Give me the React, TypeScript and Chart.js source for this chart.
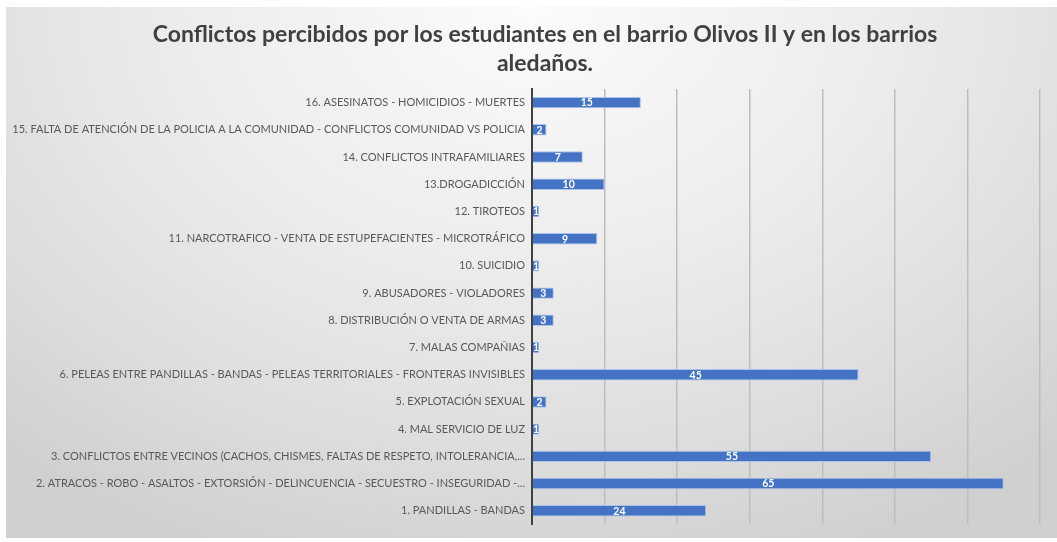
import React, { useEffect, useRef } from "react";
import { Chart, registerables } from "chart.js";

Chart.register(...registerables);

const titleLines = [
  "Conflictos percibidos por los estudiantes en el barrio Olivos II y en los barrios",
  "aledaños.",
];

const categories = [
  "16. ASESINATOS - HOMICIDIOS - MUERTES",
  "15. FALTA DE ATENCIÓN DE LA POLICIA A LA COMUNIDAD - CONFLICTOS COMUNIDAD VS POLICIA",
  "14. CONFLICTOS INTRAFAMILIARES",
  "13.DROGADICCIÓN",
  "12. TIROTEOS",
  "11. NARCOTRAFICO - VENTA DE ESTUPEFACIENTES - MICROTRÁFICO",
  "10. SUICIDIO",
  "9. ABUSADORES - VIOLADORES",
  "8. DISTRIBUCIÓN O VENTA DE ARMAS",
  "7. MALAS COMPAÑIAS",
  "6. PELEAS ENTRE PANDILLAS - BANDAS - PELEAS TERRITORIALES - FRONTERAS INVISIBLES",
  "5. EXPLOTACIÓN SEXUAL",
  "4. MAL SERVICIO DE LUZ",
  "3. CONFLICTOS ENTRE VECINOS (CACHOS, CHISMES, FALTAS DE RESPETO, INTOLERANCIA,...",
  "2. ATRACOS - ROBO - ASALTOS - EXTORSIÓN - DELINCUENCIA - SECUESTRO - INSEGURIDAD -...",
  "1. PANDILLAS - BANDAS",
];

const values = [15, 2, 7, 10, 1, 9, 1, 3, 3, 1, 45, 2, 1, 55, 65, 24];

const xMin = 0;
const xMax = 70;
const xStep = 10;

const FONT = "Lato, 'Open Sans', sans-serif";

const titlePlugin = {
  id: "customTitle",
  afterDraw(chart: any) {
    const ctx = chart.ctx;
    ctx.save();
    ctx.fillStyle = "#404040";
    ctx.font = `bold 23px ${FONT}`;
    ctx.textAlign = "center";
    ctx.textBaseline = "middle";
    titleLines.forEach((line, i) => {
      ctx.fillText(line, 539, 28 + i * 29);
    });
    ctx.restore();
  },
};

const barLabelPlugin = {
  id: "barLabels",
  afterDatasetsDraw(chart: any) {
    const ctx = chart.ctx;
    const meta = chart.getDatasetMeta(0);
    ctx.save();
    ctx.fillStyle = "#ffffff";
    ctx.font = `bold 10.5px ${FONT}`;
    ctx.textAlign = "center";
    ctx.textBaseline = "middle";
    meta.data.forEach((bar: any, i: number) => {
      const v = chart.data.datasets[0].data[i];
      const cx = (bar.x + bar.base) / 2;
      ctx.fillText(String(v), cx, bar.y + 0.5);
    });
    ctx.restore();
  },
};

export default function App() {
  const canvasRef = useRef<HTMLCanvasElement | null>(null);

  useEffect(() => {
    if (!canvasRef.current) return;
    const chart = new Chart(canvasRef.current, {
      type: "bar",
      data: {
        labels: categories,
        datasets: [
          {
            data: values,
            backgroundColor: "#4472C4",
            borderColor: "#a9c3ea",
            borderWidth: 1,
            barPercentage: 0.42,
            categoryPercentage: 1,
          },
        ],
      },
      options: {
        indexAxis: "y",
        animation: false,
        responsive: false,
        maintainAspectRatio: false,
        layout: { padding: { left: 0, right: 17, top: 82, bottom: 6 } },
        plugins: {
          legend: { display: false },
          tooltip: { enabled: false },
          title: { display: false },
        },
        scales: {
          x: {
            min: xMin,
            max: xMax,
            ticks: { display: false, stepSize: xStep },
            grid: { color: "#bdbdbd", lineWidth: 1.5, drawTicks: false },
            border: { display: false },
          },
          y: {
            ticks: {
              color: "#595959",
              font: { family: FONT, size: 11 },
              padding: 7,
              autoSkip: false,
            },
            grid: { display: false, drawTicks: false },
            border: { display: true, color: "#404040", width: 2 },
            afterFit: (scale: any) => {
              scale.width = 526;
            },
          },
        },
      },
      plugins: [barLabelPlugin, titlePlugin],
    });
    return () => chart.destroy();
  }, []);

  return (
    <div style={{ position: "absolute", left: 0, top: 0, width: 1057, height: 542, background: "#ffffff" }}>
      <div
        style={{
          position: "absolute",
          left: 6,
          top: 7,
          width: 1051,
          height: 531,
          background:
            "radial-gradient(ellipse 75% 110% at 50% 0%, #fbfbfb 0%, #ececec 45%, #dedede 75%, #d0d0d0 100%)",
        }}
      >
        <canvas ref={canvasRef} width={1051} height={531} style={{ display: "block" }} />
      </div>
    </div>
  );
}
